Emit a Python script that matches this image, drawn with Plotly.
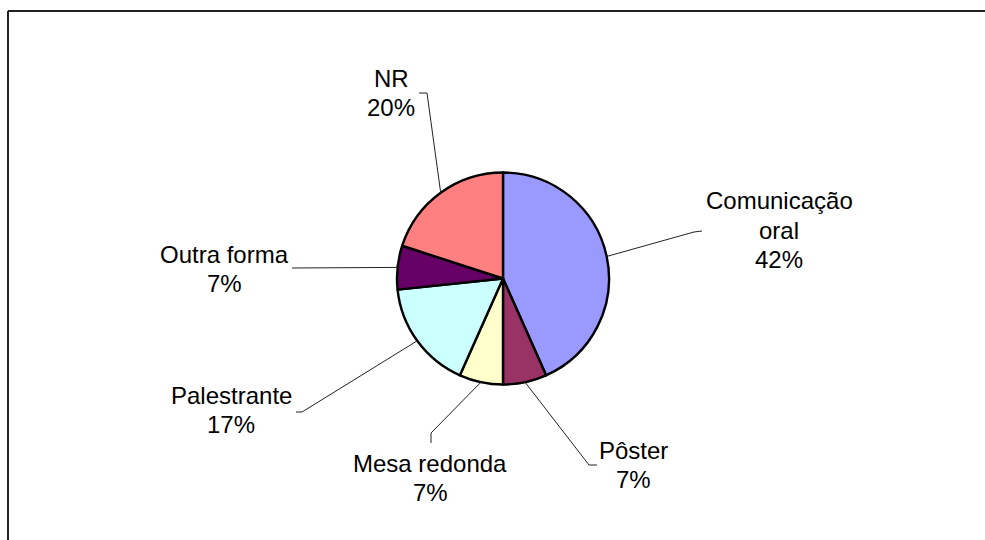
import math
import plotly.graph_objects as go

# ---- data ----
categories = ["Comunicação<br>oral", "Pôster", "Mesa redonda", "Palestrante", "Outra forma", "NR"]
values = [13, 2, 2, 5, 2, 6]
pct_labels = ["42%", "7%", "7%", "17%", "7%", "20%"]
colors = ["#9999FF", "#993366", "#FFFFCC", "#CCFFFF", "#660066", "#FF8080"]

# ---- layout constants (pixels) ----
W, H = 985, 540
CX, CY, R = 503, 278.5, 106
LINE_PITCH = 29.5
FONT_SIZE = 24
# label block centres and leader elbow points (pixels, top-left origin)
label_pos = [(779, 230), (633, 465), (430, 478), (231, 410), (224, 269), (391, 93)]
leader_pts = [
    [(694, 232), (702, 231)],
    [(589, 465), (597, 465)],
    [(431, 433), (431, 443)],
    [(302, 412), (296, 412)],
    [(292, 268)],
    [(427, 93), (419, 93)],
]

def px(x):
    return x / W

def py(y):
    return 1 - y / H

fig = go.Figure(go.Pie(
    labels=categories,
    values=values,
    sort=False,
    direction="clockwise",
    rotation=0,
    textinfo="none",
    marker=dict(colors=colors, line=dict(color="black", width=2.4)),
    domain=dict(x=[px(CX - R), px(CX + R)], y=[py(CY + R), py(CY - R)]),
    showlegend=False,
))

shapes = []
annotations = []
total = sum(values)
cum = 0
for i, v in enumerate(values):
    mid = (cum + v / 2) / total * 2 * math.pi
    cum += v
    ax = CX + R * math.sin(mid)
    ay = CY - R * math.cos(mid)
    pts = [(ax, ay)] + leader_pts[i]
    path = "M " + " L ".join(f"{px(x)},{py(y)}" for x, y in pts)
    shapes.append(dict(type="path", xref="paper", yref="paper", path=path,
                       line=dict(color="#222222", width=1)))
    lx, ly = label_pos[i]
    lines = categories[i].split("<br>") + [pct_labels[i]]
    n = len(lines)
    for k, t in enumerate(lines):
        yk = ly + (k - (n - 1) / 2) * LINE_PITCH
        annotations.append(dict(
            x=px(lx), y=py(yk), xref="paper", yref="paper",
            text=t,
            showarrow=False, xanchor="center", yanchor="middle",
            font=dict(family="Liberation Sans, Arial, sans-serif", size=FONT_SIZE, color="black"),
        ))

# chart frame (top and left edges visible)
shapes.append(dict(type="line", xref="paper", yref="paper",
                   x0=px(8), y0=py(11), x1=1.01, y1=py(11),
                   line=dict(color="#222222", width=2)))
shapes.append(dict(type="line", xref="paper", yref="paper",
                   x0=px(8), y0=py(11), x1=px(8), y1=-0.01,
                   line=dict(color="#222222", width=2)))

fig.update_layout(
    width=W, height=H,
    margin=dict(l=0, r=0, t=0, b=0),
    paper_bgcolor="white",
    plot_bgcolor="white",
    shapes=shapes,
    annotations=annotations,
)

fig.write_html("out.html")
